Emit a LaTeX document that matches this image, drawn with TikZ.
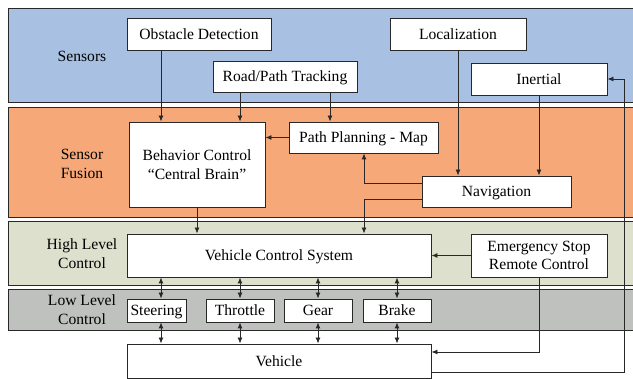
\documentclass[tikz,border=0pt]{standalone}
\usepackage{fontspec}
\setmainfont{Liberation Serif}
\usetikzlibrary{arrows.meta,calc}
\definecolor{bandblue}{RGB}{168,192,226}
\definecolor{bandorange}{RGB}{247,168,120}
\definecolor{bandgreen}{RGB}{220,224,204}
\definecolor{bandgray}{RGB}{190,193,190}
\definecolor{lineclr}{RGB}{40,40,40}
\tikzset{
  band/.style={draw=lineclr, line width=1pt},
  box/.style={draw=lineclr, fill=white, line width=0.9pt, inner sep=0pt, align=center,
    font=\fontsize{15.6}{18.5}\selectfont},
  oneline/.style={box, text height=10.5pt, text depth=0pt},
  llbox/.style={oneline, minimum height=23pt},
  bandlabel/.style={align=center, font=\fontsize{15.6}{19}\selectfont},
  arr/.style={draw=lineclr, line width=0.9pt, -{Latex[length=6pt,width=5pt]}},
  darr/.style={draw=lineclr, line width=0.9pt, {Latex[length=6pt,width=5pt]}-{Latex[length=6pt,width=5pt]}},
}
\begin{document}
\begin{tikzpicture}[x=1pt,y=-1pt]
\useasboundingbox (0,0) rectangle (633,379);
\fill[white] (0,0) rectangle (633,379);
% bands
\draw[band, fill=bandblue] (8,9) rectangle (645,103);
\draw[band, fill=bandorange] (8,108) rectangle (645,218);
\draw[band, fill=bandgreen] (8,222) rectangle (645,286);
\draw[band, fill=bandgray] (8,290) rectangle (645,331);
% band labels
\node[bandlabel] (lsens) at (82,56) {Sensors};
\node[bandlabel] (lfus) at (82,164) {Sensor\\Fusion};
\node[bandlabel] (lhigh) at (82,254) {High Level\\Control};
\node[bandlabel] (llow) at (82,310) {Low Level\\Control};
% boxes
\node[oneline, minimum width=144pt, minimum height=32pt] (obst) at (199,34) {Obstacle Detection};
\node[oneline, minimum width=144pt, minimum height=31pt] (road) at (285,76.5) {Road/Path Tracking};
\node[oneline, minimum width=136pt, minimum height=32pt] (loc) at (458,34) {Localization};
\node[oneline, minimum width=136pt, minimum height=32pt] (inert) at (539,79) {Inertial};
\node[box, minimum width=136pt, minimum height=85pt] (beh) at (197,164.5) {Behavior Control\\“Central Brain”};
\node[oneline, minimum width=149pt, minimum height=31pt] (path) at (363.5,137.5) {Path Planning - Map};
\node[oneline, minimum width=149pt, minimum height=31pt] (nav) at (496.5,191.5) {Navigation};
\node[oneline, minimum width=304pt, minimum height=43pt] (vcs) at (279,255.5) {Vehicle Control System};
\node[box, minimum width=136pt, minimum height=43pt] (emer) at (539,255.5) {Emergency Stop\\Remote Control};
\node[llbox, minimum width=59pt] (steer) at (156.5,310.5) {Steering};
\node[llbox, minimum width=68pt] (thr) at (240,310.5) {Throttle};
\node[llbox, minimum width=68pt] (gear) at (318,310.5) {Gear};
\node[llbox, minimum width=68pt] (brake) at (397,310.5) {Brake};
\node[oneline, minimum width=304pt, minimum height=34pt] (veh) at (279,361) {Vehicle};
% helper coordinates
\coordinate (X161) at (161,0);
\coordinate (X240) at (240,0);
\coordinate (X318) at (318,0);
\coordinate (X397) at (397,0);
\coordinate (X330) at (330,0);
\coordinate (X458) at (458,0);
\coordinate (X364) at (364,0);
\coordinate (X624) at (624,0);
\coordinate (Y183) at (0,183);
\coordinate (Y199) at (0,199);
\coordinate (Y352) at (0,352);
\coordinate (Y372) at (0,372);
% connectors
\draw[arr] (obst.south -| X161) -- (beh.north -| X161);
\draw[arr] (road.south -| X240) -- (beh.north -| X240);
\draw[arr] (road.south -| X330) -- (path.north -| X330);
\draw[arr] (path.west) -- (path.west -| beh.east);
\draw[arr] (loc.south -| X458) -- (nav.north -| X458);
\draw[arr] (inert.south) -- (nav.north -| inert.south);
\draw[arr] (nav.west |- Y183) -| (path.south -| X364);
\draw[arr] (nav.west |- Y199) -| (vcs.north -| X364);
\draw[arr] (beh.south) -- (vcs.north -| beh.south);
\draw[arr] (emer.west) -- (emer.west -| vcs.east);
\draw[arr] (emer.south) |- (veh.east |- Y352);
\draw[arr] (veh.east |- Y372) -| (inert.east -| X624) -- (inert.east);
% double arrows
\draw[darr] (vcs.south -| X161) -- (steer.north -| X161);
\draw[darr] (vcs.south -| X240) -- (thr.north -| X240);
\draw[darr] (vcs.south -| X318) -- (gear.north -| X318);
\draw[darr] (vcs.south -| X397) -- (brake.north -| X397);
\draw[darr] (steer.south -| X161) -- (veh.north -| X161);
\draw[darr] (thr.south -| X240) -- (veh.north -| X240);
\draw[darr] (gear.south -| X318) -- (veh.north -| X318);
\draw[darr] (brake.south -| X397) -- (veh.north -| X397);
\end{tikzpicture}
\end{document}
